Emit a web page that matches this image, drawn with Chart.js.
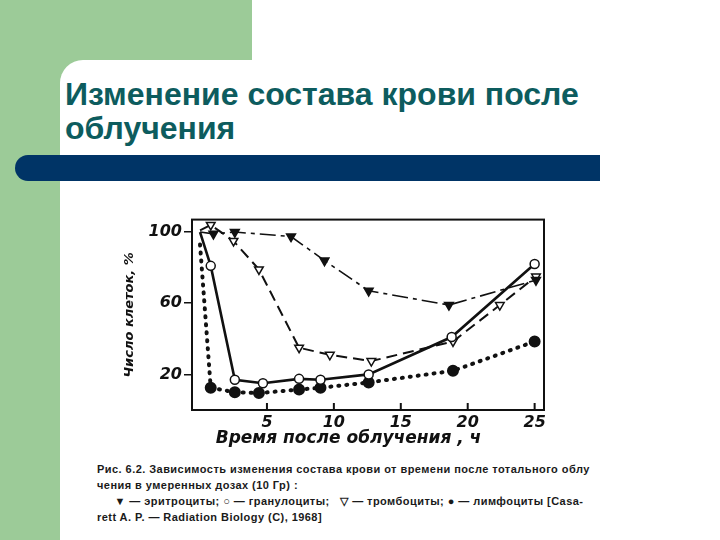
<!DOCTYPE html>
<html>
<head>
<meta charset="utf-8">
<script src="https://cdn.jsdelivr.net/npm/chart.js@4.4.0/dist/chart.umd.min.js"></script>
<style>
  body { margin: 0; width: 720px; height: 540px; position: relative; overflow: hidden; background: #fff; font-family: "Liberation Sans", Arial, sans-serif; }
  .green { position: absolute; background: #9ccb98; }
  #panel { position: absolute; left: 60px; top: 60px; right: 0; bottom: 0; background: #fff; border-top-left-radius: 23px; }
  #title { position: absolute; left: 65px; top: 77px; font-size: 32px; font-weight: bold; line-height: 34px; color: #0d5c5e; }
  #bar { position: absolute; left: 15px; top: 155px; width: 585px; height: 26px; background: #003466; border-radius: 13px 0 0 13px; }
  #box { position: absolute; left: 110px; top: 208px; width: 442px; height: 242px; }
  #caption { position: absolute; left: 97px; top: 461px; font-size: 11px; font-weight: bold; letter-spacing: 0.45px; line-height: 16px; color: #1a1a1a; white-space: nowrap; }
</style>
</head>
<body>
<div class="green" style="left:0;top:0;width:252px;height:100px"></div>
<div class="green" style="left:0;top:0;width:60px;height:540px"></div>
<div id="panel"></div>
<div id="title">Изменение состава крови после<br>облучения</div>
<div id="bar"></div>
<div id="box"><canvas id="mainChart"></canvas></div>
<div id="caption">Рис. 6.2. Зависимость изменения состава крови от времени после тотального облу<br>чения в умеренных дозах (10 Гр) :<br>&nbsp;&nbsp;&nbsp;&nbsp;&nbsp;▼ — эритроциты; ○ — гранулоциты; &nbsp;&nbsp;▽ — тромбоциты; ● — лимфоциты [Casa-<br>rett A. P. — Radiation Biology (C), 1968]</div>
<script>
// время после облучения, ч  /  число клеток, %
var eryHours = [0, 1.0, 2.6, 6.8, 9.3, 12.6, 18.6, 25.1];
var eryValues = [100, 99, 100, 97.5, 84, 67, 59, 73];

var granHours = [0, 0.8, 2.6, 4.7, 7.4, 9.0, 12.6, 18.8, 25.0];
var granValues = [100, 81, 17, 15, 17.5, 17, 20, 41, 82];

var plateHours = [0, 0.8, 2.5, 4.4, 7.4, 9.7, 12.8, 18.9, 22.4, 25.1];
var plateValues = [101, 104, 95, 79, 35, 31, 27.5, 38.5, 59, 75];

var lymphHours = [0, 0.8, 2.6, 4.4, 7.4, 9.0, 12.6, 18.9, 25.0];
var lymphValues = [93, 12.5, 10, 9.5, 11.5, 12.5, 15.5, 22, 38.5];

var xTicks = [5, 10, 15, 20, 25];
var yTicks = [20, 60, 100];

function points(xs, ys) {
    return xs.map(function (x, i) { return { x: x, y: ys[i] }; });
}

// no marker on the first point (start of each curve at the axis)
function radius(r) {
    return function (ctx) { return ctx.dataIndex === 0 ? 0 : r; };
}

// frame round the plot and the small inner ticks on the time axis
var framePlugin = {
    id: 'frame',
    afterDraw: function (chart) {
        var c = chart.ctx, a = chart.chartArea, xs = chart.scales.x;
        c.save();
        c.strokeStyle = '#111';
        c.lineWidth = 2;
        c.strokeRect(a.left, a.top, a.right - a.left, a.bottom - a.top);
        c.beginPath();
        xTicks.forEach(function (t) {
            var px = xs.getPixelForValue(t);
            c.moveTo(px, a.bottom);
            c.lineTo(px, a.bottom - 7);
        });
        c.stroke();
        c.restore();
    }
};

var axisFont = { family: 'DejaVu Sans', size: 16, style: 'italic', weight: 'bold' };

var ctx = document.getElementById('mainChart').getContext('2d');
var chart = new Chart(ctx, {
    type: 'line',
    data: {
        datasets: [{
            label: 'эритроциты',
            data: points(eryHours, eryValues),
            borderColor: '#111',
            borderWidth: 1.6,
            borderDash: [16, 5, 4, 5],
            pointStyle: 'triangle',
            rotation: 180,
            pointRadius: radius(5),
            pointBackgroundColor: '#111',
            pointBorderColor: '#111'
        }, {
            label: 'гранулоциты',
            data: points(granHours, granValues),
            borderColor: '#111',
            borderWidth: 2.6,
            pointStyle: 'circle',
            pointRadius: radius(4.5),
            pointBorderWidth: 1.5,
            pointBackgroundColor: '#fff',
            pointBorderColor: '#111'
        }, {
            label: 'тромбоциты',
            data: points(plateHours, plateValues),
            borderColor: '#111',
            borderWidth: 2,
            borderDash: [11, 6],
            pointStyle: 'triangle',
            rotation: 180,
            pointRadius: radius(5),
            pointBorderWidth: 1.5,
            pointBackgroundColor: '#fff',
            pointBorderColor: '#111'
        }, {
            label: 'лимфоциты',
            data: points(lymphHours, lymphValues),
            borderColor: '#111',
            borderWidth: 4,
            borderDash: [1, 7],
            borderCapStyle: 'round',
            pointStyle: 'circle',
            pointRadius: radius(4),
            pointBackgroundColor: '#111',
            pointBorderColor: '#111'
        }]
    },
    options: {
        responsive: true,
        maintainAspectRatio: false,
        animation: false,
        layout: { padding: { top: 5, right: 5, left: 0, bottom: 0 } },
        plugins: { legend: { display: false }, tooltip: { enabled: false } },
        elements: { line: { tension: 0 } },
        scales: {
            x: {
                type: 'linear',
                min: -0.6,
                max: 25.7,
                afterBuildTicks: function (s) { s.ticks = xTicks.map(function (v) { return { value: v }; }); },
                afterFit: function (s) { s.height = 40; },
                grid: { display: true, drawOnChartArea: false, tickLength: 0, color: '#111' },
                border: { color: '#111', width: 2 },
                ticks: { color: '#111', padding: 3, font: axisFont },
                title: {
                    display: true,
                    text: '    Время после облучения , ч',
                    align: 'start',
                    color: '#111',
                    padding: { top: 0, bottom: 1 },
                    font: { family: 'DejaVu Sans', size: 17, style: 'italic', weight: 'bold' }
                }
            },
            y: {
                min: 0,
                max: 107,
                afterBuildTicks: function (s) { s.ticks = yTicks.map(function (v) { return { value: v }; }); },
                afterFit: function (s) { s.width = 82; },
                grid: { display: true, drawOnChartArea: false, tickLength: 8, color: '#111', lineWidth: 1.5 },
                border: { color: '#111', width: 2 },
                ticks: { color: '#111', padding: 2, font: axisFont },
                title: {
                    display: true,
                    text: 'Число клеток, %',
                    color: '#111',
                    padding: { top: 12, bottom: 0 },
                    font: { family: 'DejaVu Sans', size: 13, style: 'italic', weight: 'bold' }
                }
            }
        }
    },
    plugins: [framePlugin]
});
</script>
</body>
</html>
